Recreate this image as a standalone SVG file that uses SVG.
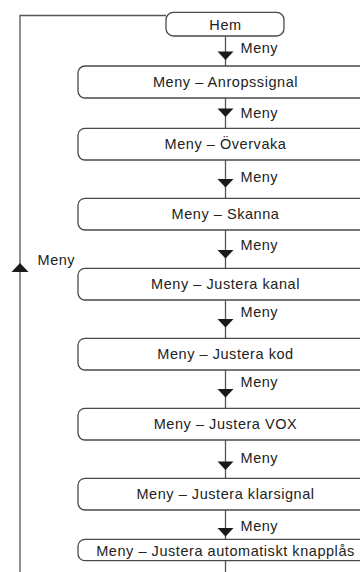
<svg xmlns="http://www.w3.org/2000/svg" width="360" height="572" viewBox="0 0 360 572">
<style>
.box{fill:#fff;stroke:#4a4a4a;stroke-width:1.3}
.ln{fill:none;stroke:#555;stroke-width:1.3}
.t{font-family:"Liberation Sans",Arial,sans-serif;font-size:14.5px;letter-spacing:0.55px;fill:#222}
.c{text-anchor:middle}
.ah{fill:#1a1a1a}
</style>
<rect width="360" height="572" fill="#fff"/>
<g id="connectors">
<path class="ln" d="M166,15.5 H20 V572"/>
<polygon class="ah" points="20,263 11.5,272 28.5,272"/>
<text class="t" x="37.5" y="264.5">Meny</text>
<line class="ln" x1="225.5" y1="36" x2="225.5" y2="66"/>
<polygon class="ah" points="217.5,51.5 233.5,51.5 225.5,60"/>
<text class="t" x="240.5" y="53.3">Meny</text>
<line class="ln" x1="225.5" y1="98" x2="225.5" y2="128.3"/>
<polygon class="ah" points="217.5,108.5 233.5,108.5 225.5,117"/>
<text class="t" x="240.5" y="118">Meny</text>
<line class="ln" x1="225.5" y1="160" x2="225.5" y2="198.3"/>
<polygon class="ah" points="217.5,179 233.5,179 225.5,187.5"/>
<text class="t" x="240.5" y="181.7">Meny</text>
<line class="ln" x1="225.5" y1="230" x2="225.5" y2="268.3"/>
<polygon class="ah" points="217.5,250 233.5,250 225.5,258.5"/>
<text class="t" x="240.5" y="250">Meny</text>
<line class="ln" x1="225.5" y1="300" x2="225.5" y2="338.3"/>
<polygon class="ah" points="217.5,319 233.5,319 225.5,327.5"/>
<text class="t" x="240.5" y="317.3">Meny</text>
<line class="ln" x1="225.5" y1="370" x2="225.5" y2="408.3"/>
<polygon class="ah" points="217.5,389 233.5,389 225.5,397.5"/>
<text class="t" x="240.5" y="387.3">Meny</text>
<line class="ln" x1="225.5" y1="440" x2="225.5" y2="478.3"/>
<polygon class="ah" points="217.5,461.5 233.5,461.5 225.5,470"/>
<text class="t" x="240.5" y="463.3">Meny</text>
<line class="ln" x1="225.5" y1="510" x2="225.5" y2="539.3"/>
<polygon class="ah" points="217.5,528 233.5,528 225.5,536.5"/>
<text class="t" x="240.5" y="531">Meny</text>
<line class="ln" x1="225.5" y1="560.7" x2="225.5" y2="572"/>
</g>
<g id="hem"><rect class="box" x="166" y="12.3" width="118" height="23.7" rx="7.5"/><text class="t c" x="225.5" y="30">Hem</text></g>
<g id="anropssignal"><rect class="box" x="78" y="66" width="295" height="32" rx="7"/><text class="t c" x="225.5" y="86.5">Meny – Anropssignal</text></g>
<g id="overvaka"><rect class="box" x="78" y="128.3" width="295" height="31.7" rx="7"/><text class="t c" x="225.5" y="149.3">Meny – Övervaka</text></g>
<g id="skanna"><rect class="box" x="78" y="198.3" width="295" height="31.7" rx="7"/><text class="t c" x="225.5" y="219.3">Meny – Skanna</text></g>
<g id="kanal"><rect class="box" x="78" y="268.3" width="295" height="31.7" rx="7"/><text class="t c" x="225.5" y="289.3">Meny – Justera kanal</text></g>
<g id="kod"><rect class="box" x="78" y="338.3" width="295" height="31.7" rx="7"/><text class="t c" x="225.5" y="359.3">Meny – Justera kod</text></g>
<g id="vox"><rect class="box" x="78" y="408.3" width="295" height="31.7" rx="7"/><text class="t c" x="225.5" y="429.3">Meny – Justera VOX</text></g>
<g id="klarsignal"><rect class="box" x="78" y="478.3" width="295" height="31.7" rx="7"/><text class="t c" x="225.5" y="499.3">Meny – Justera klarsignal</text></g>
<g id="knapplas"><rect class="box" x="78" y="539.3" width="295" height="21.4" rx="7"/><text class="t c" x="225.5" y="555.5">Meny – Justera automatiskt knapplås</text></g>
</svg>
